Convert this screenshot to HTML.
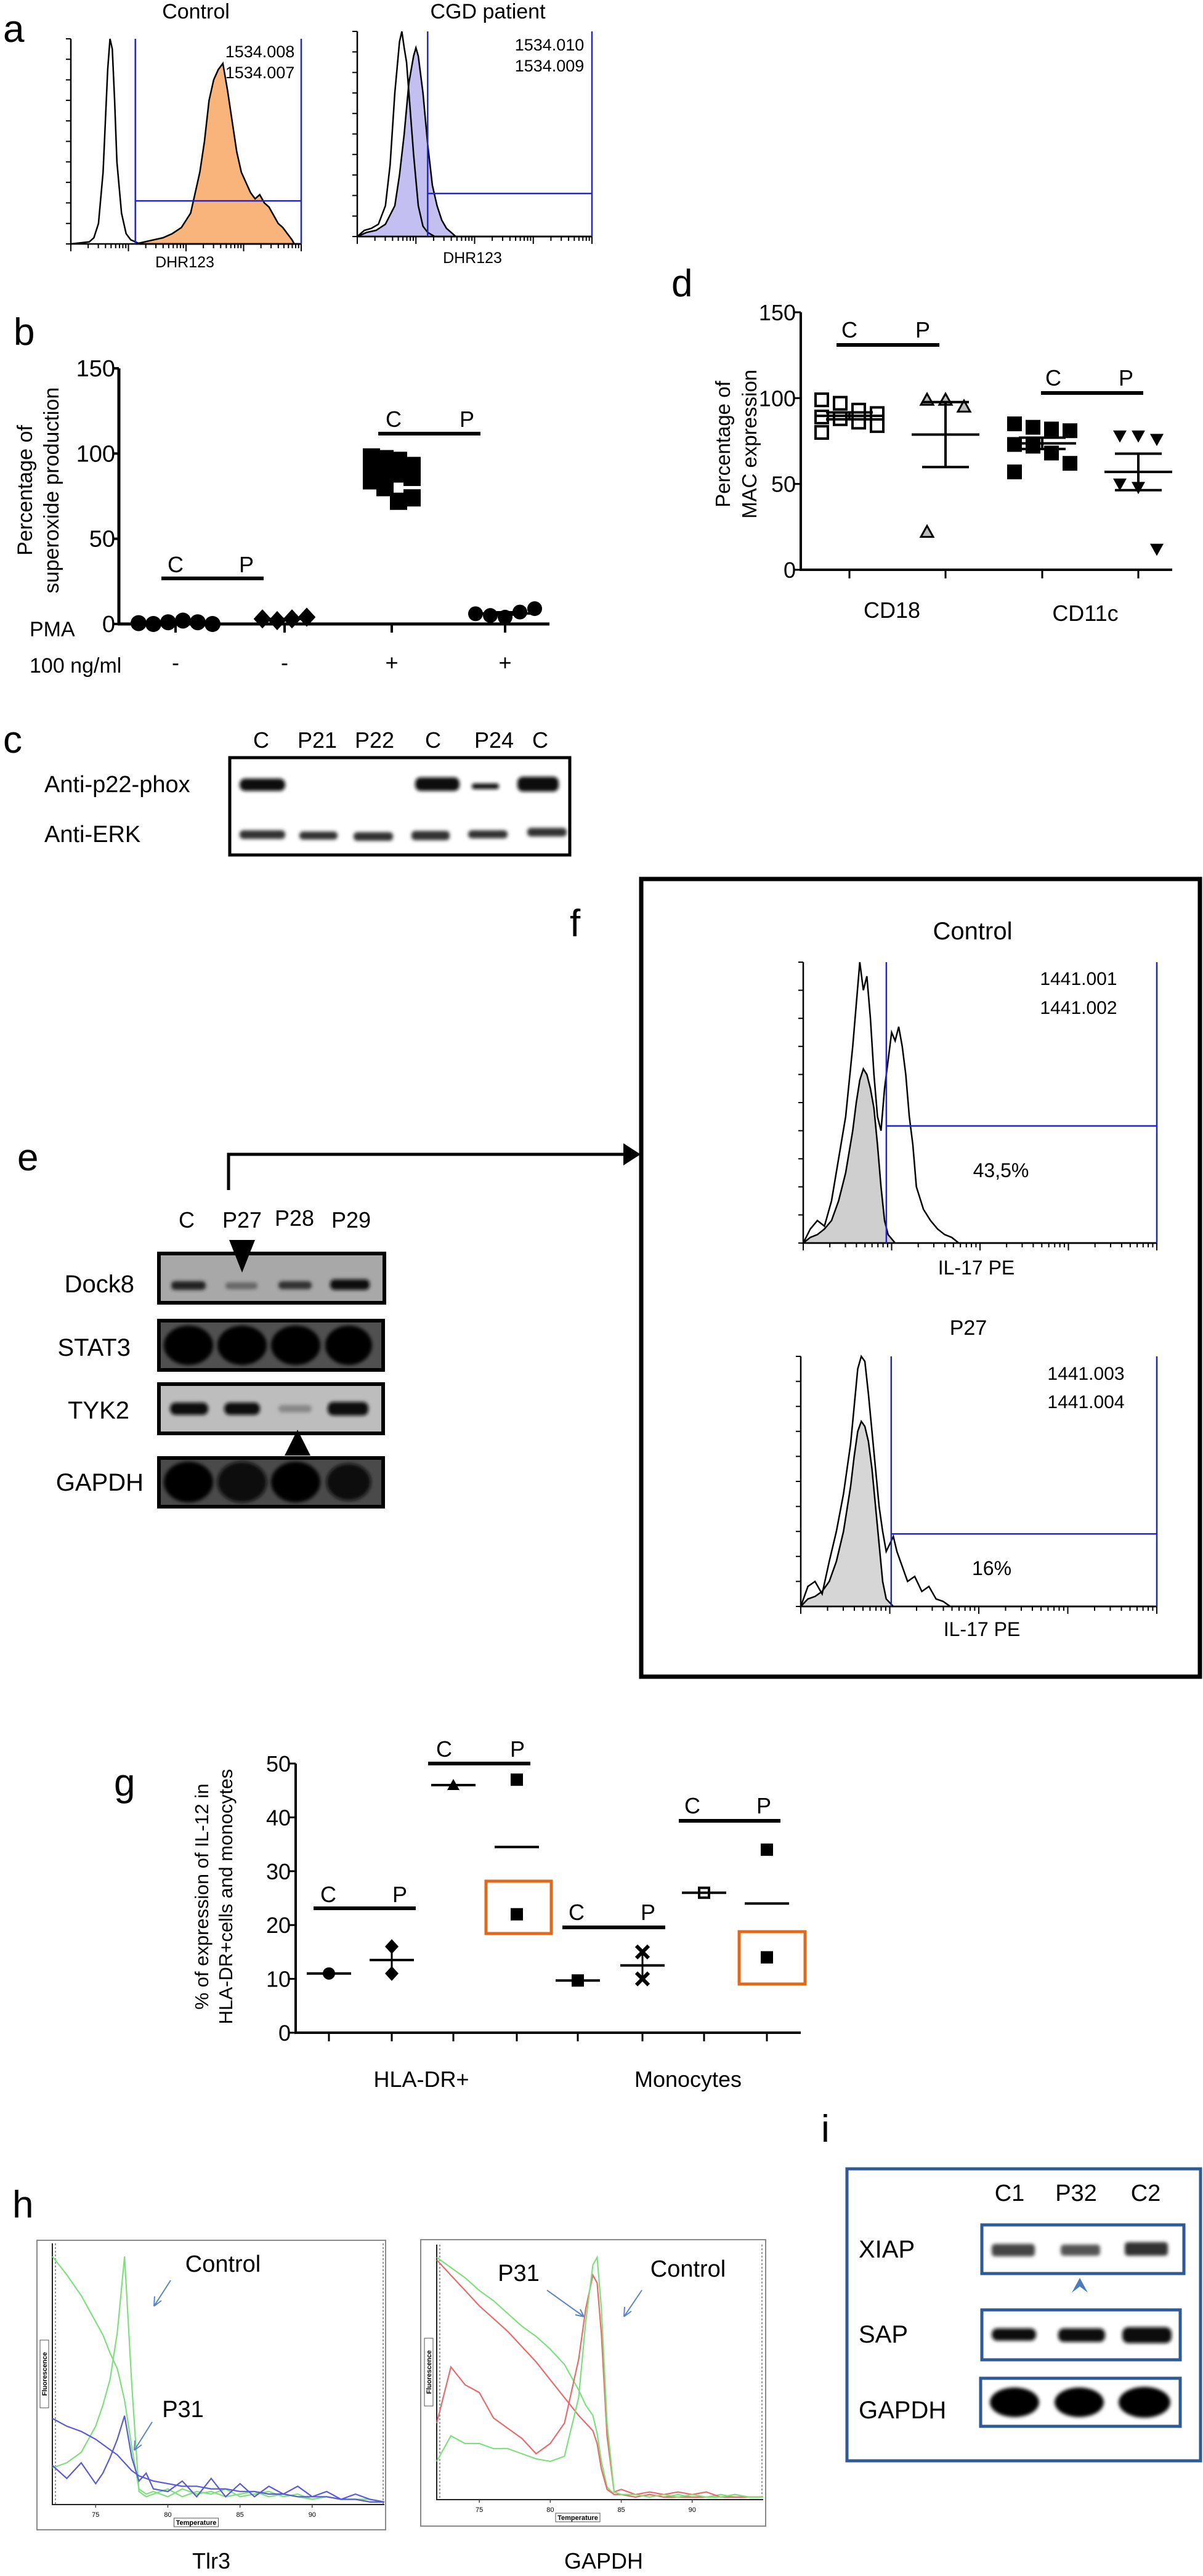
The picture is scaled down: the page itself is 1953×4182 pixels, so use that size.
<!DOCTYPE html>
<html><head><meta charset="utf-8"><style>
html,body{margin:0;padding:0;background:#fff;}
svg{display:block;}
text{font-family:"Liberation Sans Narrow","Liberation Sans",sans-serif;fill:#000;}
.pl{font-family:"Liberation Sans",sans-serif;font-size:62px;}
</style></head><body>
<svg id="fig" xmlns="http://www.w3.org/2000/svg" width="1953" height="4182" viewBox="0 0 1953 4182">
<defs>
<filter id="bl" x="-30%" y="-60%" width="160%" height="220%"><feGaussianBlur stdDeviation="3"/></filter>
<filter id="bl2" x="-30%" y="-60%" width="160%" height="220%"><feGaussianBlur stdDeviation="5"/></filter>
</defs>

<!-- Panel a -->
<g>
<text class="pl" x="5" y="68">a</text>
<text x="318" y="30" font-size="34" text-anchor="middle">Control</text>
<text x="792" y="30" font-size="34" text-anchor="middle">CGD patient</text>
<g id="histA1"></g>
<g id="histA2"></g>
<text x="422" y="93" font-size="27" text-anchor="middle">1534.008</text>
<text x="422" y="127" font-size="27" text-anchor="middle">1534.007</text>
<text x="300" y="434" font-size="25" text-anchor="middle">DHR123</text>
<text x="892" y="82" font-size="27" text-anchor="middle">1534.010</text>
<text x="892" y="116" font-size="27" text-anchor="middle">1534.009</text>
<text x="767" y="427" font-size="25" text-anchor="middle">DHR123</text>
</g>

<!-- Panel b -->
<g>
<text class="pl" x="22" y="560">b</text>
<g id="chartB"></g>
<text transform="rotate(-90 52 796)" x="52" y="796" font-size="34" text-anchor="middle" style="font-family:'Liberation Sans',sans-serif">Percentage of</text>
<text transform="rotate(-90 95 796)" x="95" y="796" font-size="34" text-anchor="middle" style="font-family:'Liberation Sans',sans-serif">superoxide production</text>
<text x="48" y="1033" font-size="34">PMA</text>
<text x="48" y="1092" font-size="34">100 ng/ml</text>
</g>

<!-- Panel c -->
<g>
<text class="pl" x="5" y="1222">c</text>
<g font-size="36" text-anchor="middle">
<text x="424" y="1214">C</text>
<text x="515" y="1214">P21</text>
<text x="608" y="1214">P22</text>
<text x="703" y="1214">C</text>
<text x="802" y="1214">P24</text>
<text x="877" y="1214">C</text>
</g>
<text x="72" y="1286" font-size="38">Anti-p22-phox</text>
<text x="72" y="1367" font-size="38">Anti-ERK</text>
<g filter="url(#bl)" fill="#111">
<rect x="389" y="1264" width="74" height="20" rx="9"/>
<rect x="674" y="1262" width="72" height="22" rx="9"/>
<rect x="766" y="1272" width="44" height="9" rx="4"/>
<rect x="840" y="1261" width="67" height="24" rx="9"/>
<rect x="389" y="1348" width="74" height="14" rx="6" fill="#333"/>
<rect x="486" y="1350" width="62" height="13" rx="6" fill="#333"/>
<rect x="574" y="1351" width="64" height="14" rx="6" fill="#333"/>
<rect x="668" y="1349" width="62" height="15" rx="6" fill="#333"/>
<rect x="760" y="1348" width="64" height="13" rx="6" fill="#333"/>
<rect x="856" y="1344" width="64" height="14" rx="6" fill="#333"/>
</g>
<rect x="373" y="1230" width="552" height="158" fill="none" stroke="#000" stroke-width="5"/>
</g>

<!-- Panel d -->
<g>
<text class="pl" x="1090" y="481">d</text>
<g id="chartD"></g>
<text transform="rotate(-90 1185 721)" x="1185" y="721" font-size="33" text-anchor="middle" style="font-family:'Liberation Sans',sans-serif">Percentage of</text>
<text transform="rotate(-90 1228 721)" x="1228" y="721" font-size="33" text-anchor="middle" style="font-family:'Liberation Sans',sans-serif">MAC expression</text>
</g>

<!-- Panel e -->
<g>
<text class="pl" x="28" y="1900">e</text>
<path d="M371,1932 V1874 H1020" fill="none" stroke="#000" stroke-width="5"/>
<polygon points="1012,1856 1040,1874 1012,1892" fill="#000"/>
<g font-size="36" text-anchor="middle">
<text x="303" y="1993">C</text>
<text x="393" y="1993">P27</text>
<text x="478" y="1990">P28</text>
<text x="570" y="1993">P29</text>
</g>
<g font-size="40" text-anchor="end">
<text x="218" y="2098">Dock8</text>
<text x="212" y="2201">STAT3</text>
<text x="210" y="2303">TYK2</text>
<text x="233" y="2420">GAPDH</text>
</g>
<rect x="258" y="2035" width="366" height="80" fill="#a8a8a8" stroke="#000" stroke-width="6"/>
<rect x="258" y="2144" width="364" height="80" fill="#505050" stroke="#000" stroke-width="6"/>
<rect x="258" y="2247" width="364" height="80" fill="#bdbdbd" stroke="#000" stroke-width="6"/>
<rect x="258" y="2367" width="364" height="79" fill="#4a4a4a" stroke="#000" stroke-width="6"/>
<g filter="url(#bl)">
<rect x="278" y="2080" width="56" height="14" rx="6" fill="#222"/>
<rect x="366" y="2082" width="52" height="11" rx="5" fill="#666"/>
<rect x="452" y="2080" width="54" height="13" rx="6" fill="#333"/>
<rect x="536" y="2077" width="64" height="17" rx="7" fill="#111"/>
<ellipse cx="306" cy="2184" rx="40" ry="32" fill="#050505"/>
<ellipse cx="393" cy="2184" rx="40" ry="32" fill="#050505"/>
<ellipse cx="480" cy="2184" rx="40" ry="32" fill="#050505"/>
<ellipse cx="566" cy="2184" rx="38" ry="32" fill="#050505"/>
<rect x="276" y="2277" width="62" height="20" rx="9" fill="#111"/>
<rect x="364" y="2277" width="58" height="20" rx="9" fill="#111"/>
<rect x="452" y="2281" width="54" height="12" rx="6" fill="#888"/>
<rect x="532" y="2276" width="66" height="22" rx="9" fill="#111"/>
<ellipse cx="306" cy="2406" rx="40" ry="33" fill="#050505"/>
<ellipse cx="393" cy="2406" rx="40" ry="33" fill="#0a0a0a"/>
<ellipse cx="480" cy="2406" rx="40" ry="33" fill="#050505"/>
<ellipse cx="566" cy="2406" rx="36" ry="30" fill="#111"/>
</g>
<polygon points="372,2013 414,2013 393,2066" fill="#000"/>
<polygon points="462,2363 504,2363 483,2321" fill="#000"/>
</g>

<!-- Panel f -->
<g>
<text class="pl" x="925" y="1520">f</text>
<rect x="1041" y="1427" width="907" height="1295" fill="none" stroke="#000" stroke-width="7"/>
<text x="1579" y="1525" font-size="40" text-anchor="middle">Control</text>
<g id="histF1"></g>
<text x="1751" y="1599" font-size="30" text-anchor="middle">1441.001</text>
<text x="1751" y="1646" font-size="30" text-anchor="middle">1441.002</text>
<text x="1625" y="1911" font-size="32" text-anchor="middle">43,5%</text>
<text x="1585" y="2069" font-size="32" text-anchor="middle">IL-17 PE</text>
<text x="1572" y="2167" font-size="34" text-anchor="middle">P27</text>
<g id="histF2"></g>
<text x="1763" y="2240" font-size="30" text-anchor="middle">1441.003</text>
<text x="1763" y="2286" font-size="30" text-anchor="middle">1441.004</text>
<text x="1610" y="2557" font-size="32" text-anchor="middle">16%</text>
<text x="1594" y="2656" font-size="32" text-anchor="middle">IL-17 PE</text>
</g>

<!-- Panel g -->
<g>
<text class="pl" x="185" y="2915">g</text>
<g id="chartG"></g>
<text transform="rotate(-90 338 3079)" x="338" y="3079" font-size="31" text-anchor="middle" style="font-family:'Liberation Sans',sans-serif">% of expression of IL-12 in</text>
<text transform="rotate(-90 377 3079)" x="377" y="3079" font-size="31" text-anchor="middle" style="font-family:'Liberation Sans',sans-serif">HLA-DR+cells and monocytes</text>
<rect x="789" y="3054" width="106" height="85" fill="none" stroke="#e2691c" stroke-width="5"/>
<rect x="1200" y="3136" width="107" height="85" fill="none" stroke="#e2691c" stroke-width="5"/>
</g>

<!-- Panel h -->
<g>
<text class="pl" x="20" y="3600">h</text>
<g id="chartH1"></g>
<g id="chartH2"></g>
<text x="343" y="4170" font-size="36" text-anchor="middle">Tlr3</text>
<text x="980" y="4170" font-size="36" text-anchor="middle">GAPDH</text>
<text x="362" y="3688" font-size="38" text-anchor="middle">Control</text>
<text x="297" y="3924" font-size="38" text-anchor="middle">P31</text>
<text x="1117" y="3696" font-size="38" text-anchor="middle">Control</text>
<text x="842" y="3703" font-size="38" text-anchor="middle">P31</text>
<g stroke="#5b86c4" stroke-width="2" fill="none">
<path d="M277,3702 L250,3744 M250,3744 L251,3728 M250,3744 L262,3735"/>
<path d="M247,3932 L218,3978 M218,3978 L219,3962 M218,3978 L230,3969"/>
<path d="M888,3718 L948,3761 M948,3761 L934,3758 M948,3761 L942,3749"/>
<path d="M1042,3718 L1013,3761 M1013,3761 L1014,3745 M1013,3761 L1025,3752"/>
</g>
</g>

<!-- Panel i -->
<g>
<text class="pl" x="1333" y="3477">i</text>
<rect x="1375" y="3521" width="574" height="474" fill="none" stroke="#2e5a96" stroke-width="5"/>
<g font-size="38" text-anchor="middle">
<text x="1639" y="3573">C1</text>
<text x="1747" y="3573">P32</text>
<text x="1860" y="3573">C2</text>
</g>
<g font-size="40">
<text x="1394" y="3665">XIAP</text>
<text x="1394" y="3803">SAP</text>
<text x="1394" y="3926">GAPDH</text>
</g>
<g filter="url(#bl)">
<rect x="1610" y="3643" width="70" height="20" rx="5" fill="#444"/>
<rect x="1722" y="3644" width="64" height="18" rx="5" fill="#555"/>
<rect x="1826" y="3640" width="70" height="22" rx="5" fill="#333"/>
<rect x="1610" y="3780" width="72" height="20" rx="9" fill="#111"/>
<rect x="1718" y="3780" width="76" height="22" rx="9" fill="#111"/>
<rect x="1822" y="3778" width="80" height="26" rx="10" fill="#111"/>
<ellipse cx="1647" cy="3900" rx="40" ry="24" fill="#000"/>
<ellipse cx="1752" cy="3900" rx="40" ry="24" fill="#000"/>
<ellipse cx="1858" cy="3900" rx="42" ry="25" fill="#000"/>
</g>
<rect x="1594" y="3612" width="328" height="79" fill="none" stroke="#2e5a96" stroke-width="5"/>
<rect x="1594" y="3750" width="322" height="81" fill="none" stroke="#2e5a96" stroke-width="5"/>
<rect x="1592" y="3861" width="324" height="78" fill="none" stroke="#2e5a96" stroke-width="5"/>
<path d="M1740,3722 L1753,3698 L1766,3722 L1753,3712 Z" fill="#4a7abf"/>
</g>
</svg>

<script>
const NS = 'http://www.w3.org/2000/svg';
function mk(tag, attrs, parent){ const e=document.createElementNS(NS,tag); for(const k in attrs){e.setAttribute(k,attrs[k]);} parent.appendChild(e); return e; }

/* ---------- Histogram data (channel 0-100, relative count 0-100) ---------- */
const a1OpenCh = [0,8,10,12,14,15,16,17,18,19,20,22,24,26,28,30,100];
const a1OpenCount = [0,1,3,10,35,60,85,100,95,70,40,15,5,2,1,0,0];
const a1FillCh = [28,32,36,40,44,48,52,54,56,58,60,62,64,66,68,70,72,74,76,78,80,82,84,86,88,90,92,94,96,97,100];
const a1FillCount = [0,1,2,3,5,8,15,25,35,50,70,80,85,88,75,60,45,35,30,25,22,24,20,18,14,10,8,5,2,0,0];
const a2OpenCh = [0,3,6,9,12,14,16,18,19,20,21,22,24,26,28,30,33,100];
const a2OpenCount = [0,3,4,6,15,35,70,95,100,92,85,70,40,15,5,2,0,0];
const a2FillCh = [0,4,8,12,16,18,20,22,24,25,26,28,30,32,34,36,38,40,42,100];
const a2FillCount = [0,2,3,6,15,30,50,75,88,92,88,70,45,25,15,8,4,2,0,0];
const f1OpenCh = [0,2,4,6,8,10,12,14,15,16,17,18,19,20,21,22,23,24,25,26,27,28,29,30,31,32,34,36,38,40,42,44,100];
const f1OpenCount = [0,5,8,6,15,30,45,70,85,100,90,95,80,60,45,40,55,65,75,72,77,70,60,45,35,20,12,8,5,3,2,0,0];
const f1FillCh = [0,2,4,6,8,10,12,14,15,16,17,18,19,20,21,22,23,24,26,100];
const f1FillCount = [0,2,3,5,8,15,25,40,50,58,62,60,55,48,35,20,8,3,0,0];
const f2OpenCh = [0,2,4,6,8,10,12,14,15,16,17,18,19,20,21,22,23,24,25,26,27,28,30,32,34,36,38,40,42,100];
const f2OpenCount = [0,8,10,5,18,30,45,65,80,95,100,98,85,70,55,40,30,22,25,28,22,18,10,12,6,8,3,2,0,0];
const f2FillCh = [0,2,4,6,8,10,12,14,15,16,17,18,19,20,21,22,23,24,26,100];
const f2FillCount = [0,3,4,6,10,18,30,48,60,70,74,72,66,55,40,25,10,3,0,0];

function histogram(g, box, openCh, openCt, fillCh, fillCt, fillColor, gateCh, gateCount, prefix){
  const sx = c => box.x0 + c/100*(box.x1-box.x0);
  const sy = v => box.yb - v/100*(box.yb-box.yt);
  let d = 'M'+sx(fillCh[0])+','+box.yb;
  fillCh.forEach((c,i)=>{ d+=' L'+sx(c)+','+sy(fillCt[i]); });
  d += ' L'+sx(fillCh[fillCh.length-1])+','+box.yb+' Z';
  let p = mk('path',{d:d,fill:fillColor,stroke:'#000','stroke-width':2.5},g);
  
  
  let d2 = '';
  openCh.forEach((c,i)=>{ d2+=(i?' L':'M')+sx(c)+','+sy(openCt[i]); });
  p = mk('path',{d:d2,fill:'none',stroke:'#000','stroke-width':2.5},g);
  
  
  // axes
  let ax = mk('path',{d:'M'+box.x0+','+box.yt+' V'+box.yb+' H'+box.x1,fill:'none',stroke:'#000','stroke-width':2.5},g);
  
  
  let tk = '';
  for(let i=0;i<=10;i++){ const y=box.yb-i*(box.yb-box.yt)/10; tk+='M'+(box.x0-8)+','+y+' H'+box.x0+' '; }
  const w = box.x1-box.x0;
  for(let dec=0;dec<4;dec++){ for(let m=1;m<10;m++){ const x=box.x0+(dec+Math.log10(m))/4*w; tk+='M'+x+','+box.yb+' v'+(m==1?12:7)+' '; } }
  tk+='M'+box.x1+','+box.yb+' v12';
  ax = mk('path',{d:tk,fill:'none',stroke:'#000','stroke-width':2},g);
  
  
  // gate
  const gx = sx(gateCh), gy = sy(gateCount);
  let gt = mk('path',{d:'M'+gx+','+box.yt+' V'+box.yb+' M'+gx+','+gy+' H'+box.x1+' M'+box.x1+','+box.yt+' V'+box.yb,fill:'none',stroke:'#2323d6','stroke-width':2.5},g);
  
  
}
histogram(document.getElementById('histA1'),{x0:115,x1:489,yt:63,yb:396},a1OpenCh,a1OpenCount,a1FillCh,a1FillCount,'#f8b47a',28,21,'control-dhr');
histogram(document.getElementById('histA2'),{x0:580,x1:961,yt:51,yb:384},a2OpenCh,a2OpenCount,a2FillCh,a2FillCount,'#c3bff0',30,21,'cgd-dhr');
histogram(document.getElementById('histF1'),{x0:1304,x1:1878,yt:1562,yb:2018},f1OpenCh,f1OpenCount,f1FillCh,f1FillCount,'#cfcfcf',23.5,41.7,'control-il17');
histogram(document.getElementById('histF2'),{x0:1300,x1:1878,yt:2202,yb:2608},f2OpenCh,f2OpenCount,f2FillCh,f2FillCount,'#d6d6d6',25.4,29,'p27-il17');

/* ---------- Scatter chart helpers ---------- */
function marker(g, type, x, y, s, name){
  let e;
  const h=s/2;
  if(type==='circle') e=mk('circle',{cx:x,cy:y,r:h,fill:'#000'},g);
  else if(type==='square') e=mk('rect',{x:x-h,y:y-h,width:s,height:s,fill:'#000'},g);
  else if(type==='osquare') e=mk('rect',{x:x-h+2,y:y-h+2,width:s-4,height:s-4,fill:'#fff',stroke:'#000','stroke-width':4},g);
  else if(type==='diamond') e=mk('polygon',{points:[x,y-h*1.2,x+h*1.1,y,x,y+h*1.2,x-h*1.1,y].join(' '),fill:'#000'},g);
  else if(type==='triangle') e=mk('polygon',{points:[x,y-h,x+h,y+h*0.8,x-h,y+h*0.8].join(' '),fill:'#000'},g);
  else if(type==='otriangle') e=mk('polygon',{points:[x,y-h,x+h,y+h*0.8,x-h,y+h*0.8].join(' '),fill:'#bbb',stroke:'#000','stroke-width':3},g);
  else if(type==='itriangle') e=mk('polygon',{points:[x,y+h,x+h,y-h*0.8,x-h,y-h*0.8].join(' '),fill:'#000'},g);
  else if(type==='dsquare'){ e=mk('rect',{x:x-h,y:y-h,width:s,height:s,fill:'#000'},g); }
  else if(type==='xmark') e=mk('path',{d:'M'+(x-h)+','+(y-h)+' L'+(x+h)+','+(y+h)+' M'+(x+h)+','+(y-h)+' L'+(x-h)+','+(y+h),stroke:'#000','stroke-width':6,fill:'none'},g);
  
  
  return e;
}
function stats(v){ const n=v.length; const m=v.reduce((a,b)=>a+b,0)/n; if(n<2) return [m,0]; const sd=Math.sqrt(v.reduce((a,b)=>a+(b-m)*(b-m),0)/(n-1)); return [m, sd/Math.sqrt(n)]; }
function line(g,x1,y1,x2,y2,w,name){ const e=mk('line',{x1:x1,y1:y1,x2:x2,y2:y2,stroke:'#000','stroke-width':w},g);   return e; }
function txt(g,x,y,s,t,anchor,name){ const e=mk('text',{x:x,y:y,'font-size':s,'text-anchor':anchor},g); e.textContent=t;   return e; }

/* ---------- Panel b ---------- */
const bCategories = ['-','-','+','+'];
const bGroup1 = [0.5,0,1,2,1,0];
const bGroup2 = [3,2,3,4];
const bGroup3 = [98,97,96,93,92,90,88,86,84,80,72,74];
const bGroup4 = [6,5,4,7,9];
const bTicks = [0,50,100,150];
(function(){
  const g=document.getElementById('chartB');
  const X0=193, X1=892, Y0=1013, K=2.767;
  const y=v=>Y0-v*K;
  const cx=[285,462,636,820];
  line(g,X0,y(150),X0,Y0,5,'b-y-axis');
  line(g,X0-2,Y0,X1,Y0,5,'b-x-axis');
  bTicks.forEach(t=>{ line(g,X0-10,y(t),X0,y(t),4,'b-y-tick'); txt(g,X0-6,y(t)+13,38,String(t),'end','b-y-tick-label'); });
  cx.forEach((x,i)=>{ line(g,x,Y0,x,Y0+14,4,'b-x-tick'); txt(g,x,1088,36,bCategories[i],'middle','b-pma-sign'); });
  const groups=[[bGroup1,'circle',26,6],[bGroup2,'diamond',26,4],[bGroup3,'square',28,4],[bGroup4,'circle',24,5]];
  groups.forEach((gr,gi)=>{
    const v=gr[0], cols=gr[3];
    v.forEach((val,i)=>{ const off=((i%cols)-(cols-1)/2)*(gi==2?22:24); marker(g,gr[1],cx[gi]+off,y(val),gr[2],'b-point'); });
    const st=stats(v);
    line(g,cx[gi]-42,y(st[0]),cx[gi]+42,y(st[0]),4,'b-mean-line');
    if(st[1]>0.5){ line(g,cx[gi],y(st[0]-st[1]),cx[gi],y(st[0]+st[1]),3,'b-sem-bar'); line(g,cx[gi]-14,y(st[0]+st[1]),cx[gi]+14,y(st[0]+st[1]),3,'b-sem-cap'); line(g,cx[gi]-14,y(st[0]-st[1]),cx[gi]+14,y(st[0]-st[1]),3,'b-sem-cap'); }
  });
  line(g,262,939,428,939,6,'b-comparison-bar-unstim'); txt(g,285,929,36,'C','middle','b-c-label'); txt(g,400,929,36,'P','middle','b-p-label');
  line(g,614,704,780,704,6,'b-comparison-bar-pma'); txt(g,639,693,36,'C','middle','b-c-label'); txt(g,758,693,36,'P','middle','b-p-label');
})();

/* ---------- Panel d ---------- */
const dCategories = ['CD18','CD11c'];
const dCD18Control = [99,97,93,91,89,88,86,84,80];
const dCD18Patient = [99,99,95,22];
const dCD11cControl = [85,83,82,81,73,72,68,62,57];
const dCD11cPatient = [78,78,76,50,48,12];
const dTicks = [0,50,100,150];
(function(){
  const g=document.getElementById('chartD');
  const X0=1300, X1=1903, Y0=925, K=2.787;
  const y=v=>Y0-v*K;
  const cx=[1379,1535,1692,1848];
  line(g,X0,y(150),X0,Y0,4,'d-y-axis');
  line(g,X0-2,Y0,X1,Y0,4,'d-x-axis');
  dTicks.forEach(t=>{ line(g,X0-10,y(t),X0,y(t),3,'d-y-tick'); txt(g,X0-8,y(t)+13,36,String(t),'end','d-y-tick-label'); });
  cx.forEach(x=>line(g,x,Y0,x,Y0+14,3,'d-x-tick'));
  txt(g,1448,1003,36,dCategories[0],'middle','d-category-label');
  txt(g,1762,1008,36,dCategories[1],'middle','d-category-label');
  const groups=[[dCD18Control,'osquare',24,4],[dCD18Patient,'otriangle',20,3],[dCD11cControl,'square',24,4],[dCD11cPatient,'itriangle',22,3]];
  groups.forEach((gr,gi)=>{
    const v=gr[0], cols=gr[3];
    v.forEach((val,i)=>{ const off=((i%cols)-(cols-1)/2)*30; marker(g,gr[1],cx[gi]+off,y(val),gr[2],'d-point'); });
    const st=stats(v);
    line(g,cx[gi]-55,y(st[0]),cx[gi]+55,y(st[0]),4,'d-mean-line');
    line(g,cx[gi],y(st[0]-st[1]),cx[gi],y(st[0]+st[1]),4,'d-sem-bar');
    line(g,cx[gi]-38,y(st[0]+st[1]),cx[gi]+38,y(st[0]+st[1]),4,'d-sem-cap');
    line(g,cx[gi]-38,y(st[0]-st[1]),cx[gi]+38,y(st[0]-st[1]),4,'d-sem-cap');
  });
  line(g,1358,560,1525,560,6,'d-comparison-bar-cd18'); txt(g,1379,548,36,'C','middle','d-c-label'); txt(g,1498,548,36,'P','middle','d-p-label');
  line(g,1690,638,1856,638,6,'d-comparison-bar-cd11c'); txt(g,1710,626,36,'C','middle','d-c-label'); txt(g,1828,626,36,'P','middle','d-p-label');
})();

/* ---------- Panel g ---------- */
const gGroupLabels = ['HLA-DR+','Monocytes'];
const gValues = [[11],[16,11],[46],[47,22],[9.7],[15,10],[26],[34,14]];
const gMarkers = ['circle','diamond','triangle','dsquare','square','xmark','osquare','dsquare'];
const gTicks = [0,10,20,30,40,50];
(function(){
  const g=document.getElementById('chartG');
  const X0=480, X1=1300, Y0=3300, K=8.74;
  const y=v=>Y0-v*K;
  const cx=[534,636,736,839,938,1043,1143,1245];
  line(g,X0,y(50),X0,Y0,4,'g-y-axis');
  line(g,X0-2,Y0,X1,Y0,4,'g-x-axis');
  gTicks.forEach(t=>{ line(g,X0-10,y(t),X0,y(t),3,'g-y-tick'); txt(g,X0-8,y(t)+13,36,String(t),'end','g-y-tick-label'); });
  cx.forEach(x=>line(g,x,Y0,x,Y0+14,3,'g-x-tick'));
  txt(g,684,3388,36,gGroupLabels[0],'middle','g-group-label');
  txt(g,1117,3388,36,gGroupLabels[1],'middle','g-group-label');
  gValues.forEach((v,gi)=>{
    v.forEach(val=>{ const m=marker(g,gMarkers[gi],cx[gi],y(val),20,'g-point'); });
    const st=stats(v);
    line(g,cx[gi]-36,y(st[0]),cx[gi]+36,y(st[0]),4,'g-mean-line');
    if(v.length>1 && gi!==3 && gi!==7) line(g,cx[gi],y(Math.min(...v)),cx[gi],y(Math.max(...v)),3,'g-range-bar');
  });
  line(g,509,3098,675,3098,6,'g-comparison-bar-1'); txt(g,533,3088,36,'C','middle','g-c-label'); txt(g,649,3088,36,'P','middle','g-p-label');
  line(g,695,2863,861,2863,6,'g-comparison-bar-2'); txt(g,721,2852,36,'C','middle','g-c-label'); txt(g,840,2852,36,'P','middle','g-p-label');
  line(g,913,3129,1080,3129,6,'g-comparison-bar-3'); txt(g,936,3117,36,'C','middle','g-c-label'); txt(g,1052,3117,36,'P','middle','g-p-label');
  line(g,1102,2956,1267,2956,6,'g-comparison-bar-4'); txt(g,1124,2944,36,'C','middle','g-c-label'); txt(g,1240,2944,36,'P','middle','g-p-label');
})();

/* ---------- Panel h: melt curves ---------- */
const hTlrTemps = [72,73,74,75,75.5,76,76.5,77,77.5,78,78.5,79,80,81,82,83,84,85,86,87,88,89,90,91,92,93,94,95];
const hTlrGreenDesc = [95,88,80,70,65,58,52,40,22,6,4,5,3,6,4,5,3,4,5,3,4,3,2,3,2,2,1,1];
const hTlrGreenPeak = [14,16,20,30,38,48,66,95,46,5,3,4,6,3,5,4,6,3,4,5,3,4,2,3,2,2,2,1];
const hTlrBlueSmooth = [33,30,28,25,23,21,19,16,13,11,10,9,8,7,7,6,6,5,5,4,4,3,3,3,2,2,1,1];
const hTlrBlueNoisy = [15,10,16,8,12,18,25,34,18,9,12,6,5,9,3,10,3,8,3,7,4,7,3,5,2,4,2,1];
const hGapTemps = [72,73,74,75,76,77,78,79,80,81,82,82.5,83,83.3,83.6,84,84.5,85,86,87,88,89,90,91,92,93,94,95];
const hGapGreenDesc = [95,91,87,82,78,73,68,64,59,53,43,37,33,26,15,5,2,2,1,2,1,2,1,1,2,1,1,1];
const hGapRedDesc = [94,88,82,76,71,66,60,54,47,40,33,30,27,22,12,4,2,2,1,2,1,1,1,1,1,1,1,1];
const hGapRedNoisy = [30,52,45,42,32,28,24,18,22,30,55,75,88,85,65,25,3,4,2,3,2,3,2,3,1,2,1,1];
const hGapGreenNoisy = [15,25,22,22,20,20,18,16,15,17,40,70,92,95,75,30,3,2,2,1,2,1,2,1,1,2,1,1];
const hTickTemps = [75,80,85,90];

function meltPlot(g, frame, inner, temps, series, colors, prefix){
  let r=mk('rect',{x:frame.x,y:frame.y,width:frame.w,height:frame.h,fill:'#fff',stroke:'#8a8a8a','stroke-width':2},g);
  
  
  const sx=t=>inner.x0+(t-72)/23*(inner.x1-inner.x0);
  const sy=v=>inner.yb-v/100*(inner.yb-inner.yt);
  let a=mk('path',{d:'M'+inner.x0+','+inner.yt+' V'+inner.yb+' H'+inner.x1,fill:'none',stroke:'#222','stroke-width':2},g);
  
  
  a=mk('path',{d:'M'+(inner.x0+5)+','+inner.yt+' V'+inner.yb+' M'+(inner.x1-2)+','+inner.yt+' V'+inner.yb,fill:'none',stroke:'#777','stroke-width':1.5,'stroke-dasharray':'3 3'},g);
  
  
  hTickTemps.forEach(t=>{
    const tk=mk('line',{x1:sx(t),y1:inner.yb,x2:sx(t),y2:inner.yb+5,stroke:'#444','stroke-width':1.5},g);
    
    
    const tl=mk('text',{x:sx(t),y:inner.yb+20,'font-size':11,'text-anchor':'middle',fill:'#444'},g);
    tl.textContent=String(t);
    
    
  });
  const tb=mk('rect',{x:(inner.x0+inner.x1)/2-72,y:inner.yb+22,width:72,height:14,fill:'#fff',stroke:'#555','stroke-width':1},g);
  
  
  const tt=mk('text',{x:(inner.x0+inner.x1)/2-36,y:inner.yb+33,'font-size':11,'text-anchor':'middle','font-weight':'bold'},g);
  tt.textContent='Temperature';
  
  
  const yc=(inner.yt+inner.yb)/2;
  const yb=mk('rect',{x:inner.x0-20,y:yc-55,width:14,height:110,fill:'#fff',stroke:'#555','stroke-width':1},g);
  
  
  const yt=mk('text',{x:inner.x0-9,y:yc,'font-size':11,'text-anchor':'middle','font-weight':'bold',transform:'rotate(-90 '+(inner.x0-9)+' '+yc+')'},g);
  yt.textContent='Fluorescence';
  
  
  series.forEach((s,si)=>{
    let d='';
    temps.forEach((t,i)=>{ d+=(i?' L':'M')+sx(t).toFixed(1)+','+sy(s[i]).toFixed(1); });
    const p=mk('path',{d:d,fill:'none',stroke:colors[si],'stroke-width':2.2},g);
    
    
  });
}
meltPlot(document.getElementById('chartH1'),{x:60,y:3637,w:566,h:470},{x0:85,x1:624,yt:3642,yb:4066},hTlrTemps,[hTlrGreenDesc,hTlrGreenPeak,hTlrBlueSmooth,hTlrBlueNoisy],['#7de07d','#7de07d','#5a5ad8','#5a5ad8'],'tlr3');
meltPlot(document.getElementById('chartH2'),{x:683,y:3636,w:560,h:465},{x0:709,x1:1239,yt:3644,yb:4058},hGapTemps,[hGapGreenDesc,hGapRedDesc,hGapRedNoisy,hGapGreenNoisy],['#7de07d','#e86a6a','#e86a6a','#7de07d'],'gapdh');
</script>
</body></html>
